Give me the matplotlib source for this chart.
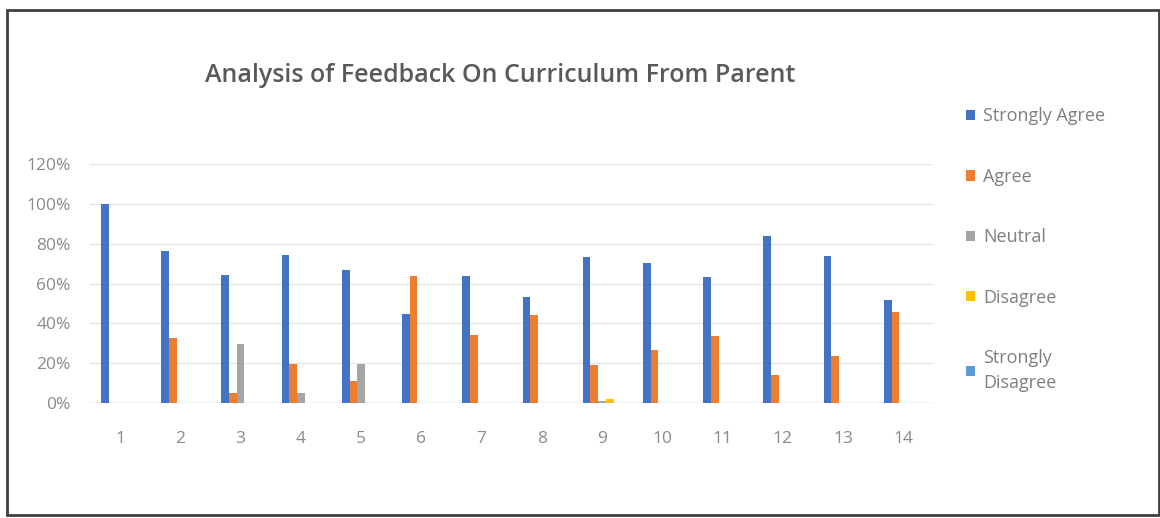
import matplotlib.pyplot as plt
import matplotlib.ticker as mtick
import numpy as np
from matplotlib.patches import Rectangle, Patch

plt.rcParams['font.family'] = ['Open Sans', 'DejaVu Sans']

questions = [str(i) for i in range(1, 15)]
strongly_agree = [100, 76.5, 64.5, 74.5, 67, 44.5, 64, 53.5, 73.5, 70.5, 63.5, 84, 74, 52]
agree = [0, 32.5, 5, 19.5, 11, 64, 34, 44, 19, 26.5, 33.5, 14, 23.5, 45.5]
neutral = [0, 0, 29.5, 5, 19.5, 0, 0, 0, 1, 0, 0, 0, 0, 0]
disagree = [0, 0, 0, 0, 0, 0, 0, 0, 2, 0, 0, 0, 0, 0]
strongly_disagree = [0] * 14

series_names = ["Strongly Agree", "Agree", "Neutral", "Disagree", "Strongly\nDisagree"]
series = [strongly_agree, agree, neutral, disagree, strongly_disagree]
colors = ["#4472C4", "#ED7D31", "#A5A5A5", "#FFC000", "#5B9BD5"]

fig = plt.figure(figsize=(11.6, 5.18), dpi=100)
ax = fig.add_axes([0.0776, 0.222, 0.727, 0.461])

x = np.arange(len(questions))
width = 0.128
for i, (vals, c) in enumerate(zip(series, colors)):
    ax.bar(x + (i - 2) * width, np.array(vals) / 100, width=width, color=c, zorder=3)

ax.set_ylim(0, 1.2)
ax.set_xlim(-0.5, len(questions) - 0.5)
ax.set_yticks(np.arange(0, 1.21, 0.2))
ax.yaxis.set_major_formatter(mtick.FuncFormatter(lambda v, _: f"{v*100:.0f}%"))
ax.set_xticks(x)
ax.set_xticklabels(questions)
ax.tick_params(axis='both', length=0, colors="#8a8a8a", labelsize=12.5)
ax.tick_params(axis='x', pad=20)
ax.tick_params(axis='y', pad=14)
ax.grid(axis='y', color="#e6e6e6", linewidth=1, zorder=0)
for s in ax.spines.values():
    s.set_visible(False)
ax.axhline(0, color="#d9d9d9", linewidth=1, zorder=2)

fig.text(0.431, 0.855, "Analysis of Feedback On Curriculum From Parent",
         ha='center', va='center', fontsize=18, color="#595959", fontweight='semibold')

handles = [Patch(facecolor=c, edgecolor='none') for c in colors]
leg = fig.legend(handles, series_names, loc='upper left', bbox_to_anchor=(0.819, 0.824),
                 frameon=False, fontsize=13, labelspacing=2.35, handlelength=0.5,
                 handleheight=0.5, handletextpad=0.45)
for t in leg.get_texts():
    t.set_color("#7f7f7f")
leg.get_texts()[-1].set_linespacing(1.5)

fig.patches.append(Rectangle((0.006, 0.006), 0.993, 0.975, transform=fig.transFigure,
                             fill=False, edgecolor="#404040", linewidth=2))

fig.savefig("out.png", dpi=100)
